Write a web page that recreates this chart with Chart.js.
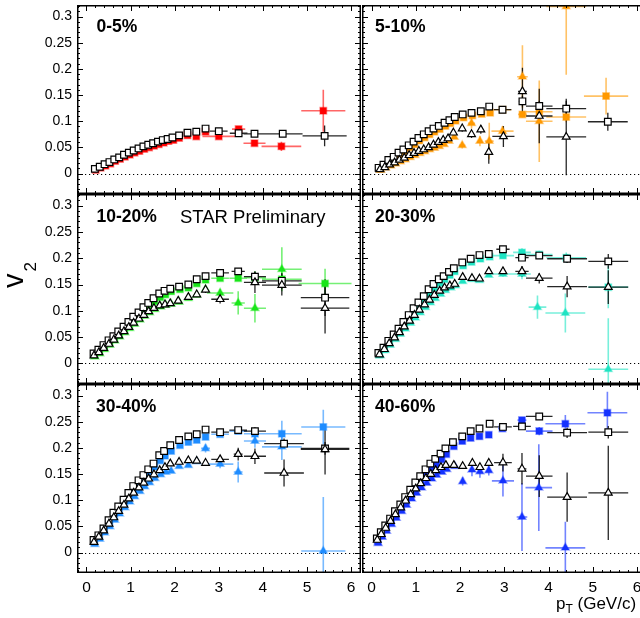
<!DOCTYPE html>
<html><head><meta charset="utf-8">
<script src="https://cdn.jsdelivr.net/npm/chart.js@4.4.1/dist/chart.umd.min.js"></script>
<style>
html,body{margin:0;padding:0;background:#fff;overflow:hidden;}
#wrap{position:relative;width:640px;height:618px;overflow:hidden;background:#fff;font-family:"Liberation Sans",Arial,Helvetica,sans-serif;}
#wrap canvas{position:absolute;}
.lab{position:absolute;line-height:1;white-space:nowrap;color:#000;}
.pl{font-weight:bold;font-size:17.5px;}
#ytitle{left:-1.2px;top:288px;font-size:29px;transform:rotate(-90deg);transform-origin:0 0;}
#ytitle span{font-size:17px;position:relative;top:13px;margin-left:2px;}
#xtitle{left:556px;top:594.5px;font-size:17px;}
#xtitle span{font-size:12px;position:relative;top:4px;}
</style></head><body>
<div id="wrap"></div>
<script>
// ---------- axes ----------
const X_MIN = -0.215, X_MAX = 6.225, Y_MIN = -0.039, Y_MAX = 0.322;
const X_TICKS = [0,1,2,3,4,5,6];
const X_TICK_LABELS = ['0','1','2','3','4','5','6'];
const Y_TICKS = [0,0.05,0.1,0.15,0.2,0.25,0.3];
const Y_TICK_LABELS = ['0','0.05','0.1','0.15','0.2','0.25','0.3'];
const CENTRALITIES = ['0-5%','5-10%','10-20%','20-30%','30-40%','40-60%'];

// ---------- 0-5% ----------
const c05_sqO_pt = [0.19,0.30,0.41,0.52,0.63,0.74,0.85,0.96,1.07,1.18,1.29,1.40,1.51,1.62,1.73,1.84,1.95,2.10,2.29,2.49,2.70,3.00,3.45,3.81,4.45,5.40];
const c05_sqO_v2 = [0.009,0.013,0.018,0.022,0.027,0.031,0.036,0.040,0.044,0.048,0.052,0.055,0.058,0.061,0.064,0.066,0.069,0.073,0.078,0.080,0.086,0.081,0.077,0.076,0.076,0.072];
const c05_sqO_ex = [0.2,0.2,0.25,0.45,0.5];
const c05_sqO_ey = [0.004,0.004,0.004,0.006,0.02];
const c05_sqC_pt = [0.21,0.32,0.43,0.54,0.65,0.76,0.87,0.98,1.09,1.20,1.31,1.42,1.53,1.64,1.75,1.86,1.97,2.10,2.29,2.49,2.70,3.00,3.45,3.81,4.42,5.37];
const c05_sqC_v2 = [0.007,0.011,0.015,0.019,0.024,0.028,0.032,0.036,0.040,0.043,0.047,0.050,0.053,0.056,0.059,0.062,0.064,0.068,0.073,0.071,0.080,0.071,0.085,0.058,0.052,0.120];
const c05_sqC_ex = [0.37,0.15,0.25,0.45,0.5];
const c05_sqC_ey = [0.004,0.006,0.005,0.009,0.04];

// ---------- 5-10% ----------
const c510_sqO_pt = [0.16,0.27,0.38,0.50,0.61,0.72,0.84,0.95,1.06,1.18,1.29,1.40,1.52,1.65,1.76,1.88,2.06,2.26,2.47,2.66,2.96,3.41,3.79,4.40,5.34];
const c510_sqO_v2 = [0.011,0.017,0.026,0.032,0.040,0.046,0.054,0.061,0.068,0.075,0.081,0.086,0.091,0.097,0.102,0.108,0.113,0.116,0.119,0.128,0.122,0.138,0.129,0.124,0.099];
const c510_sqO_ex = [0.2,0.08,0.3,0.45,0.45];
const c510_sqO_ey = [0.004,0.01,0.01,0.015,0.017];
const c510_sqC_pt = [0.18,0.29,0.40,0.52,0.63,0.74,0.86,0.97,1.08,1.20,1.31,1.42,1.54,1.67,1.78,1.90,2.08,2.28,2.49,2.68,2.96,3.41,3.79,4.40,5.30];
const c510_sqC_v2 = [0.009,0.015,0.022,0.029,0.036,0.043,0.050,0.056,0.063,0.069,0.075,0.080,0.085,0.091,0.096,0.101,0.107,0.111,0.114,0.116,0.122,0.113,0.118,0.108,0.148];
const c510_sqC_ex = [0.2,0.1,0.3,0.45,0.5];
const c510_sqC_ey = [0.004,0.006,0.01,0.01,0.035];
const c510_triO_pt = [0.19,0.30,0.41,0.52,0.63,0.74,0.85,0.96,1.07,1.18,1.29,1.40,1.51,1.62,1.73,1.85,2.05,2.26,2.47,2.65,2.98,3.41,3.79,4.40];
const c510_triO_v2 = [0.008,0.012,0.017,0.021,0.026,0.030,0.035,0.039,0.043,0.046,0.050,0.055,0.060,0.064,0.067,0.078,0.086,0.075,0.084,0.041,0.071,0.157,0.110,0.070];
const c510_triO_ex = [0.25,0.1,0.3,0.45];
const c510_triO_ey = [0.006,0.006,0.007,0.008,0.022,0.02,0.045,0.052,0.073];
const c510_triC_pt = [0.21,0.32,0.43,0.54,0.65,0.76,0.87,0.98,1.09,1.20,1.31,1.42,1.53,1.64,1.75,1.87,2.05,2.26,2.45,2.66,2.96,3.41,3.79,4.40];
const c510_triC_v2 = [0.007,0.011,0.015,0.019,0.023,0.027,0.031,0.035,0.039,0.042,0.046,0.049,0.052,0.056,0.062,0.070,0.054,0.096,0.062,0.062,0.081,0.185,0.100,0.319];
const c510_triC_ex = [0.07,0.08,0.05,0.1,0.25,0.12,0.3,0.45];
const c510_triC_ey = [0.006,0.01,0.01,0.035,0.01,0.06,0.078,0.13];

// ---------- 10-20% ----------
const c1020_sqO_pt = [0.16,0.27,0.385,0.50,0.61,0.72,0.84,0.95,1.06,1.18,1.29,1.40,1.52,1.65,1.77,1.90,2.10,2.31,2.50,2.70,3.03,3.44,3.82,4.43,5.41];
const c1020_sqO_v2 = [0.019,0.026,0.035,0.044,0.052,0.061,0.070,0.079,0.089,0.097,0.107,0.115,0.124,0.133,0.138,0.142,0.146,0.150,0.160,0.166,0.172,0.175,0.165,0.157,0.125];
const c1020_sqO_ex = [0.2,0.15,0.25,0.45,0.55];
const c1020_sqO_ey = [0.004,0.005,0.01,0.015,0.035];
const c1020_sqC_pt = [0.18,0.29,0.40,0.52,0.63,0.74,0.86,0.97,1.08,1.20,1.31,1.42,1.54,1.67,1.79,1.92,2.12,2.31,2.50,2.70,3.03,3.44,3.82,4.43,5.41];
const c1020_sqC_v2 = [0.016,0.023,0.031,0.040,0.048,0.057,0.066,0.075,0.084,0.092,0.101,0.109,0.118,0.126,0.131,0.137,0.141,0.144,0.152,0.159,0.162,0.162,0.163,0.160,0.152];
const c1020_sqC_ex = [0.2,0.2,0.25,0.45,0.6];
const c1020_sqC_ey = [0.004,0.005,0.012,0.015,0.028];
const c1020_triO_pt = [0.17,0.28,0.39,0.51,0.62,0.73,0.85,0.96,1.07,1.19,1.30,1.41,1.53,1.66,1.78,1.90,2.08,2.31,2.50,2.70,3.03,3.82,4.43,5.41];
const c1020_triO_v2 = [0.015,0.021,0.029,0.037,0.045,0.053,0.061,0.069,0.077,0.085,0.092,0.099,0.105,0.110,0.112,0.114,0.119,0.126,0.131,0.140,0.122,0.154,0.149,0.105];
const c1020_triO_ex = [0.2,0.25,0.45,0.55];
const c1020_triO_ey = [0.006,0.008,0.02,0.02,0.048];
const c1020_triC_pt = [0.19,0.30,0.41,0.53,0.64,0.75,0.87,0.98,1.09,1.21,1.32,1.43,1.55,1.68,1.80,1.92,2.10,2.31,2.50,2.70,3.03,3.44,3.82,4.43];
const c1020_triC_v2 = [0.013,0.019,0.027,0.035,0.043,0.051,0.059,0.067,0.075,0.083,0.090,0.097,0.103,0.108,0.111,0.113,0.117,0.124,0.130,0.141,0.134,0.115,0.105,0.179];
const c1020_triC_ex = [0.3,0.15,0.25,0.45];
const c1020_triC_ey = [0.005,0.008,0.022,0.027,0.042];

// ---------- 20-30% ----------
const c2030_sqO_pt = [0.155,0.27,0.38,0.50,0.61,0.72,0.84,0.95,1.06,1.18,1.29,1.40,1.52,1.63,1.75,1.86,2.05,2.24,2.44,2.65,2.97,3.40,3.79,4.42,5.35];
const c2030_sqO_v2 = [0.020,0.030,0.043,0.055,0.066,0.079,0.092,0.105,0.116,0.128,0.141,0.151,0.160,0.166,0.174,0.181,0.192,0.199,0.206,0.208,0.217,0.201,0.205,0.199,0.194];
const c2030_sqO_ex = [0.15,0.15,0.3,0.45,0.45];
const c2030_sqO_ey = [0.004,0.005,0.006,0.008,0.014];
const c2030_sqC_pt = [0.17,0.28,0.40,0.51,0.63,0.74,0.86,0.97,1.08,1.20,1.31,1.42,1.54,1.65,1.77,1.88,2.07,2.26,2.46,2.67,2.97,3.40,3.79,4.40,5.35];
const c2030_sqC_v2 = [0.017,0.027,0.039,0.051,0.062,0.074,0.087,0.099,0.110,0.122,0.134,0.144,0.153,0.160,0.168,0.175,0.186,0.193,0.199,0.203,0.205,0.211,0.207,0.201,0.145];
const c2030_sqC_ex = [0.25,0.2,0.3,0.45,0.45];
const c2030_sqC_ey = [0.005,0.008,0.007,0.01,0.04];
const c2030_triO_pt = [0.18,0.29,0.40,0.52,0.63,0.74,0.86,0.97,1.08,1.20,1.31,1.42,1.54,1.65,1.77,1.88,2.06,2.27,2.44,2.65,2.97,3.40,3.79,4.42,5.35];
const c2030_triO_v2 = [0.017,0.027,0.038,0.049,0.059,0.070,0.081,0.092,0.102,0.112,0.121,0.130,0.138,0.144,0.148,0.151,0.164,0.162,0.161,0.175,0.175,0.175,0.162,0.146,0.145];
const c2030_triO_ex = [0.15,0.3,0.45,0.45];
const c2030_triO_ey = [0.01,0.01,0.02,0.032];
const c2030_triC_pt = [0.20,0.31,0.42,0.54,0.65,0.76,0.88,0.99,1.10,1.22,1.33,1.44,1.56,1.67,1.79,1.90,2.06,2.27,2.44,2.65,2.97,3.40,3.75,4.38,5.35];
const c2030_triC_v2 = [0.015,0.025,0.035,0.046,0.056,0.066,0.077,0.087,0.097,0.107,0.116,0.124,0.132,0.139,0.144,0.148,0.156,0.160,0.158,0.168,0.170,0.170,0.107,0.096,-0.011];
const c2030_triC_ex = [0.25,0.2,0.2,0.45,0.45];
const c2030_triC_ey = [0.005,0.01,0.022,0.037,0.097];

// ---------- 30-40% ----------
const c3040_sqO_pt = [0.16,0.27,0.385,0.50,0.61,0.72,0.84,0.95,1.06,1.18,1.29,1.40,1.52,1.65,1.76,1.90,2.10,2.31,2.50,2.70,3.03,3.44,3.82,4.48,5.41];
const c3040_sqO_v2 = [0.024,0.033,0.046,0.062,0.076,0.088,0.101,0.114,0.127,0.138,0.148,0.159,0.170,0.186,0.194,0.205,0.215,0.222,0.226,0.235,0.230,0.234,0.232,0.208,0.199];
const c3040_sqO_ex = [0.2,0.2,0.25,0.45,0.55];
const c3040_sqO_ey = [0.005,0.008,0.01,0.012];
const c3040_sqC_pt = [0.18,0.29,0.40,0.52,0.63,0.74,0.86,0.97,1.08,1.20,1.31,1.42,1.54,1.67,1.78,1.92,2.12,2.31,2.50,2.70,3.03,3.44,3.82,4.43,5.37];
const c3040_sqC_v2 = [0.020,0.030,0.043,0.057,0.070,0.082,0.095,0.108,0.120,0.131,0.142,0.153,0.164,0.176,0.185,0.194,0.205,0.211,0.215,0.221,0.226,0.232,0.227,0.227,0.240];
const c3040_sqC_ex = [0.2,0.2,0.25,0.45,0.5];
const c3040_sqC_ey = [0.01,0.025,0.033];
const c3040_triO_pt = [0.17,0.28,0.39,0.51,0.62,0.73,0.85,0.96,1.07,1.19,1.30,1.41,1.53,1.66,1.78,1.90,2.10,2.31,2.50,2.70,3.03,3.44,3.82,4.48,5.41];
const c3040_triO_v2 = [0.020,0.030,0.042,0.055,0.067,0.079,0.091,0.103,0.114,0.124,0.133,0.141,0.149,0.157,0.163,0.170,0.173,0.176,0.175,0.171,0.178,0.188,0.184,0.152,0.197];
const c3040_triO_ex = [0.2,0.1,0.25,0.45,0.55];
const c3040_triO_ey = [0.006,0.012,0.015,0.026,0.048];
const c3040_triC_pt = [0.19,0.30,0.41,0.53,0.64,0.75,0.87,0.98,1.09,1.21,1.32,1.43,1.55,1.68,1.80,1.92,2.10,2.31,2.50,2.70,3.03,3.44,3.82,4.43,5.37];
const c3040_triC_v2 = [0.016,0.026,0.038,0.050,0.062,0.074,0.086,0.097,0.107,0.117,0.126,0.134,0.142,0.149,0.154,0.156,0.165,0.167,0.174,0.199,0.169,0.154,0.213,0.202,0.003];
const c3040_triC_ex = [0.1,0.3,0.1,0.25,0.45,0.5];
const c3040_triC_ey = [0.008,0.008,0.02,0.013,0.025,0.103];

// ---------- 40-60% ----------
const c4060_sqO_pt = [0.12,0.21,0.31,0.42,0.53,0.65,0.76,0.875,0.99,1.10,1.22,1.33,1.44,1.56,1.67,1.84,2.05,2.24,2.44,2.67,2.97,3.40,3.79,4.42,5.35];
const c4060_sqO_v2 = [0.027,0.039,0.052,0.065,0.079,0.092,0.106,0.120,0.134,0.146,0.159,0.170,0.179,0.189,0.199,0.211,0.222,0.232,0.237,0.246,0.240,0.241,0.260,0.229,0.230];
const c4060_sqO_ex = [0.2,0.2,0.3,0.45,0.45];
const c4060_sqO_ey = [0.006,0.01,0.012];
const c4060_sqC_pt = [0.14,0.23,0.33,0.44,0.55,0.67,0.78,0.895,1.01,1.12,1.24,1.35,1.46,1.58,1.69,1.86,2.05,2.24,2.44,2.65,2.96,3.40,3.79,4.38,5.33];
const c4060_sqC_v2 = [0.022,0.034,0.046,0.059,0.072,0.085,0.098,0.111,0.124,0.136,0.148,0.159,0.168,0.178,0.188,0.203,0.213,0.219,0.222,0.225,0.237,0.253,0.232,0.246,0.267];
const c4060_sqC_ex = [0.1,0.1,0.3,0.45,0.45];
const c4060_sqC_ey = [0.006,0.008,0.017,0.04];
const c4060_triO_pt = [0.13,0.22,0.32,0.43,0.54,0.66,0.77,0.885,1.00,1.11,1.23,1.34,1.45,1.57,1.68,1.86,2.06,2.28,2.45,2.65,2.97,3.40,3.79,4.42,5.35];
const c4060_triO_v2 = [0.024,0.035,0.047,0.060,0.073,0.086,0.099,0.111,0.122,0.132,0.142,0.150,0.157,0.163,0.167,0.167,0.165,0.171,0.163,0.171,0.172,0.160,0.146,0.106,0.114];
const c4060_triO_ex = [0.2,0.1,0.3,0.45,0.45];
const c4060_triO_ey = [0.017,0.03,0.04,0.047,0.09];
const c4060_triC_pt = [0.15,0.24,0.34,0.45,0.56,0.68,0.79,0.905,1.02,1.13,1.25,1.36,1.47,1.59,1.70,1.88,2.06,2.27,2.45,2.65,2.97,3.40,3.78,4.38];
const c4060_triC_v2 = [0.018,0.030,0.041,0.054,0.066,0.079,0.091,0.103,0.114,0.124,0.133,0.141,0.148,0.154,0.159,0.165,0.136,0.158,0.155,0.157,0.137,0.068,0.124,0.009];
const c4060_triC_ex = [0.25,0.12,0.3,0.45];
const c4060_triC_ey = [0.008,0.012,0.012,0.01,0.03,0.065,0.083,0.05];

// ---------- build ----------
const FONT = '"Liberation Sans", Arial, Helvetica, sans-serif';
function mk(pt, v2, exT, eyT) {
  const n = pt.length, ox = n - exT.length, oy = n - eyT.length;
  return pt.map((x, i) => ({x: x, y: v2[i], ex: i >= ox ? exT[i - ox] : 0, ey: i >= oy ? eyT[i - oy] : 0}));
}
const PANELS = [
  {col:0,row:0,rgb:'255,0,0',
   sqO:[c05_sqO_pt,c05_sqO_v2,c05_sqO_ex,c05_sqO_ey], sqC:[c05_sqC_pt,c05_sqC_v2,c05_sqC_ex,c05_sqC_ey]},
  {col:1,row:0,rgb:'255,153,0',
   sqO:[c510_sqO_pt,c510_sqO_v2,c510_sqO_ex,c510_sqO_ey], sqC:[c510_sqC_pt,c510_sqC_v2,c510_sqC_ex,c510_sqC_ey],
   triO:[c510_triO_pt,c510_triO_v2,c510_triO_ex,c510_triO_ey], triC:[c510_triC_pt,c510_triC_v2,c510_triC_ex,c510_triC_ey]},
  {col:0,row:1,rgb:'25,230,25',
   sqO:[c1020_sqO_pt,c1020_sqO_v2,c1020_sqO_ex,c1020_sqO_ey], sqC:[c1020_sqC_pt,c1020_sqC_v2,c1020_sqC_ex,c1020_sqC_ey],
   triO:[c1020_triO_pt,c1020_triO_v2,c1020_triO_ex,c1020_triO_ey], triC:[c1020_triC_pt,c1020_triC_v2,c1020_triC_ex,c1020_triC_ey]},
  {col:1,row:1,rgb:'30,228,195',
   sqO:[c2030_sqO_pt,c2030_sqO_v2,c2030_sqO_ex,c2030_sqO_ey], sqC:[c2030_sqC_pt,c2030_sqC_v2,c2030_sqC_ex,c2030_sqC_ey],
   triO:[c2030_triO_pt,c2030_triO_v2,c2030_triO_ex,c2030_triO_ey], triC:[c2030_triC_pt,c2030_triC_v2,c2030_triC_ex,c2030_triC_ey]},
  {col:0,row:2,rgb:'30,140,255',
   sqO:[c3040_sqO_pt,c3040_sqO_v2,c3040_sqO_ex,c3040_sqO_ey], sqC:[c3040_sqC_pt,c3040_sqC_v2,c3040_sqC_ex,c3040_sqC_ey],
   triO:[c3040_triO_pt,c3040_triO_v2,c3040_triO_ex,c3040_triO_ey], triC:[c3040_triC_pt,c3040_triC_v2,c3040_triC_ex,c3040_triC_ey]},
  {col:1,row:2,rgb:'20,50,255',
   sqO:[c4060_sqO_pt,c4060_sqO_v2,c4060_sqO_ex,c4060_sqO_ey], sqC:[c4060_sqC_pt,c4060_sqC_v2,c4060_sqC_ex,c4060_sqC_ey],
   triO:[c4060_triO_pt,c4060_triO_v2,c4060_triO_ex,c4060_triO_ey], triC:[c4060_triC_pt,c4060_triC_v2,c4060_triC_ex,c4060_triC_ey]}
];
const LABEL_POS = [[96.5,18.4],[375,18.4],[96.5,208.2],[375,207.8],[96,397.8],[375,397.8]];

const framePlugin = {
  id: 'rootFrame',
  beforeDatasetsDraw(chart) {
    const {ctx, chartArea: a, scales: {x, y}} = chart;
    ctx.save();
    ctx.beginPath(); ctx.rect(a.left, a.top, a.right - a.left, a.bottom - a.top); ctx.clip();
    const y0 = Math.round(y.getPixelForValue(0)) + 0.5;
    ctx.setLineDash([1.2, 2.8]); ctx.strokeStyle = '#000'; ctx.lineWidth = 1;
    ctx.beginPath(); ctx.moveTo(a.left, y0); ctx.lineTo(a.right, y0); ctx.stroke();
    ctx.setLineDash([]);
    const sorted = chart.data.datasets.slice().sort((p, q) => q.order - p.order);
    for (const ds of sorted) {
      ctx.strokeStyle = ds.errColor; ctx.lineWidth = ds.errWidth;
      ctx.beginPath();
      for (const p of ds.data) {
        const px = x.getPixelForValue(p.x), py = y.getPixelForValue(p.y);
        if (p.ex) { ctx.moveTo(x.getPixelForValue(p.x - p.ex), py); ctx.lineTo(x.getPixelForValue(p.x + p.ex), py); }
        if (p.ey) { ctx.moveTo(px, y.getPixelForValue(p.y - p.ey)); ctx.lineTo(px, y.getPixelForValue(p.y + p.ey)); }
      }
      ctx.stroke();
    }
    ctx.restore();
  },
  afterDraw(chart) {
    const {ctx, chartArea: a, scales: {x, y}} = chart;
    ctx.save();
    ctx.strokeStyle = '#000';
    ctx.lineWidth = 1;
    ctx.beginPath();
    for (let k = -1; k <= 31; k++) {
      const v = k * 0.2; if (v < X_MIN || v > X_MAX) continue;
      const major = k % 5 === 0;
      const len = major ? 6 : 3;
      const px = Math.round(x.getPixelForValue(v)) + 0.5;
      ctx.moveTo(px, a.bottom); ctx.lineTo(px, a.bottom - len);
      ctx.moveTo(px, a.top); ctx.lineTo(px, a.top + len);
    }
    for (let k = -3; k <= 32; k++) {
      const v = k * 0.01; if (v < Y_MIN || v > Y_MAX) continue;
      const major = k % 5 === 0;
      const len = major ? 6 : 3;
      const py = Math.round(y.getPixelForValue(v)) + 0.5;
      ctx.moveTo(a.left, py); ctx.lineTo(a.left + len, py);
      ctx.moveTo(a.right, py); ctx.lineTo(a.right - len, py);
    }
    ctx.stroke();
    ctx.lineWidth = 1.5;
    ctx.strokeRect(a.left + 0.75, a.top + 0.75, a.right - a.left - 1.5, a.bottom - a.top - 1.5);
    ctx.restore();
  }
};

const wrap = document.getElementById('wrap');
const COL_LEFT = [0, 361], COL_W = [361, 286];
const ROW_TOP = [0, 194, 384], ROW_H = [194, 190, 234];
function noPad(s) { s.paddingTop = 0; s.paddingBottom = 0; s.paddingLeft = 0; s.paddingRight = 0; }

PANELS.forEach((P, idx) => {
  const cv = document.createElement('canvas');
  cv.width = COL_W[P.col]; cv.height = ROW_H[P.row];
  cv.style.left = COL_LEFT[P.col] + 'px'; cv.style.top = ROW_TOP[P.row] + 'px';
  cv.style.width = COL_W[P.col] + 'px'; cv.style.height = ROW_H[P.row] + 'px';
  wrap.appendChild(cv);
  const col = a => 'rgba(' + P.rgb + ',' + a + ')';
  const datasets = [];
  if (P.sqC) datasets.push({label:'sqC', data: mk(...P.sqC), pointStyle:'rect', pointRadius:4.6,
    backgroundColor: col(1), borderColor: col(0.4), borderWidth: 1.5, order: 4, errColor: col(0.6), errWidth: 1.6});
  if (P.triC) datasets.push({label:'triC', data: mk(...P.triC), pointStyle:'triangle', pointRadius:4.5,
    backgroundColor: col(1), borderColor: col(0.4), borderWidth: 1.5, order: 3, errColor: col(0.6), errWidth: 1.6});
  if (P.sqO) datasets.push({label:'sqO', data: mk(...P.sqO), pointStyle:'rect', pointRadius:4.7,
    backgroundColor: '#fff', borderColor: '#000', borderWidth: 1.2, order: 2, errColor: 'rgba(0,0,0,0.85)', errWidth: 1.3});
  if (P.triO) datasets.push({label:'triO', data: mk(...P.triO), pointStyle:'triangle', pointRadius:4.5,
    backgroundColor: '#fff', borderColor: '#000', borderWidth: 1.2, order: 1, errColor: 'rgba(0,0,0,0.85)', errWidth: 1.3});
  datasets.forEach(d => { d.showLine = false; d.pointHoverRadius = d.pointRadius; });

  const xOpts = {type:'linear', min:X_MIN, max:X_MAX, display: P.row === 2,
    grid:{display:false, drawTicks:false}, border:{display:false},
    afterBuildTicks: s => { s.ticks = X_TICKS.map(v => ({value:v})); },
    afterFit: s => { s.height = P.row === 2 ? 45 : 0; noPad(s); },
    ticks:{autoSkip:false, maxRotation:0, padding:5, color:'#000', font:{family:FONT, size:15.5},
      callback: (v, i) => X_TICK_LABELS[i]}};
  const yOpts = {type:'linear', min:Y_MIN, max:Y_MAX, display: P.col === 0,
    grid:{display:false, drawTicks:false}, border:{display:false},
    afterBuildTicks: s => { s.ticks = Y_TICKS.map(v => ({value:v})); },
    afterFit: s => { s.width = P.col === 0 ? 77 : 0; noPad(s); },
    ticks:{autoSkip:false, padding:5, color:'#000', font:{family:FONT, size:14},
      callback: (v, i) => Y_TICK_LABELS[i]}};

  new Chart(cv, {
    type: 'scatter',
    data: {datasets},
    options: {
      responsive:false, animation:false, events:[],
      layout:{autoPadding:false, padding:{left: P.col === 1 ? 1 : 0, top: P.row === 0 ? 5 : 0, right:0, bottom:0}},
      plugins:{legend:{display:false}, tooltip:{enabled:false}},
      scales:{x:xOpts, y:yOpts}
    },
    plugins:[framePlugin]
  });

  const lab = document.createElement('div');
  lab.className = 'lab pl';
  lab.style.left = LABEL_POS[idx][0] + 'px'; lab.style.top = LABEL_POS[idx][1] + 'px';
  lab.textContent = CENTRALITIES[idx];
  wrap.appendChild(lab);
});

const star = document.createElement('div');
star.className = 'lab'; star.style.left = '180px'; star.style.top = '207.6px'; star.style.fontSize = '18.5px';
star.textContent = 'STAR Preliminary';
wrap.appendChild(star);

const yt = document.createElement('div');
yt.className = 'lab'; yt.id = 'ytitle';
yt.innerHTML = 'v<span>2</span>';
wrap.appendChild(yt);

const xt = document.createElement('div');
xt.className = 'lab'; xt.id = 'xtitle';
xt.innerHTML = 'p<span>T</span> (GeV/c)';
wrap.appendChild(xt);
</script>
</body></html>
